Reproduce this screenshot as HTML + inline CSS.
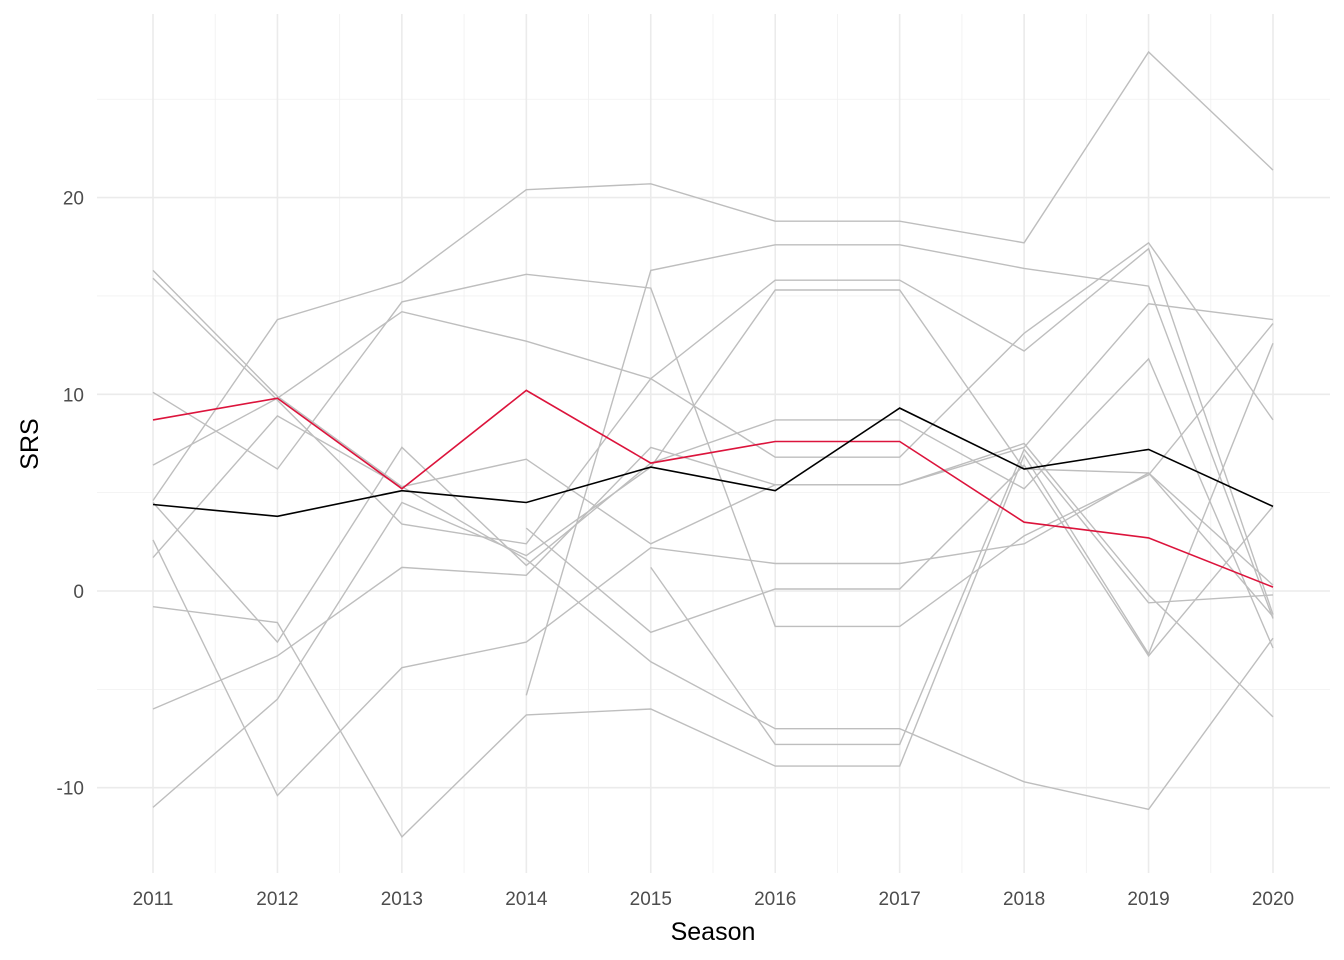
<!DOCTYPE html>
<html><head><meta charset="utf-8"><style>
body{margin:0;background:#fff}
svg{display:block;font-family:"Liberation Sans",sans-serif}
</style></head><body>
<svg id="chart" width="1344" height="960">
<g id="grid"></g>
<g id="lines"></g>
<g id="axes"></g>
<text x="713" y="940" font-size="25" text-anchor="middle" fill="#000">Season</text>
<text transform="translate(38,444) rotate(-90)" font-size="25" text-anchor="middle" fill="#000">SRS</text>
</svg>
<script>
const seasons=[2011,2012,2013,2014,2015,2016,2017,2018,2019,2020];
const yTicks=[-10,0,10,20];
const yMinor=[-5,5,15,25];
const redSeries=[8.7,9.8,5.2,10.2,6.5,7.6,7.6,3.5,2.7,0.2];
const blackSeries=[4.4,3.8,5.1,4.5,6.3,5.1,9.3,6.2,7.2,4.3];
const g1=[4.6,13.8,15.7,20.4,20.7,18.8,18.8,17.7,27.4,21.4];
const g2=[16.3,9.9,5.3,1.6,-3.6,-7.0,-7.0,-9.7,-11.1,-2.4];
const g3=[15.9,9.7,3.4,2.4,10.8,15.8,15.8,12.2,17.4,-1.2];
const g4=[10.1,6.2,14.7,16.1,15.4,-1.8,-1.8,2.8,5.9,13.6];
const g5=[6.4,9.8,14.2,12.7,10.8,6.8,6.8,13.1,17.7,8.7];
const g6=[1.7,8.9,5.3,6.7,2.4,5.4,5.4,7.5,-0.2,-6.4];
const g7=[4.5,-2.6,7.3,1.3,6.5,8.7,8.7,5.2,11.8,-2.9];
const g8=[2.6,-10.4,-3.9,-2.6,2.2,1.4,1.4,2.4,6.0,-1.3];
const g9=[-0.8,-1.6,-12.5,-6.3,-6.0,-8.9,-8.9,6.9,-3.2,12.6];
const g10=[-6.0,-3.3,1.2,0.8,7.3,5.4,5.4,7.3,14.6,13.8];
const g11=[-11.0,-5.5,4.5,1.8,6.3,15.3,15.3,6.2,6.0,0.3];
const g12=[null,null,null,3.2,-2.1,0.1,0.1,6.4,-3.3,4.3];
const g13=[null,null,null,-5.3,16.3,17.6,17.6,16.4,15.5,-1.4];
const g14=[null,null,null,null,1.2,-7.8,-7.8,7.2,-0.6,-0.2];
const graySeries=[g1,g2,g3,g4,g5,g6,g7,g8,g9,g10,g11,g12,g13,g14];

const NS="http://www.w3.org/2000/svg";
const L=97,R=1330,T=14,B=873;
function x(s){return 153+(s-2011)*(1273-153)/9;}
function y(v){return 591-v*19.67;}
function mk(tag,attrs,parent){const e=document.createElementNS(NS,tag);for(const k in attrs)e.setAttribute(k,attrs[k]);parent.appendChild(e);return e;}
const grid=document.getElementById('grid'),lines=document.getElementById('lines'),axes=document.getElementById('axes');
yMinor.forEach(v=>{const e=mk('line',{x1:L,x2:R,y1:y(v),y2:y(v),stroke:'#f0f0f0','stroke-width':0.8},grid);

});
seasons.slice(0,-1).forEach(s=>{const e=mk('line',{x1:x(s+0.5),x2:x(s+0.5),y1:T,y2:B,stroke:'#f0f0f0','stroke-width':0.8},grid);

});
yTicks.forEach(v=>{const e=mk('line',{x1:L,x2:R,y1:y(v),y2:y(v),stroke:'#ebebeb','stroke-width':1.6},grid);


const t=mk('text',{x:84,y:y(v)+7,'font-size':19,'text-anchor':'end',fill:'#4d4d4d'},axes);t.textContent=v;

});
seasons.forEach(s=>{const e=mk('line',{x1:x(s),x2:x(s),y1:T,y2:B,stroke:'#ebebeb','stroke-width':1.6},grid);


const t=mk('text',{x:x(s),y:905,'font-size':19,'text-anchor':'middle',fill:'#4d4d4d'},axes);t.textContent=s;

});
function path(vals){let d='',pen=false;vals.forEach((v,i)=>{if(v===null){pen=false;return;}d+=(pen?'L':'M')+x(seasons[i]).toFixed(1)+','+y(v).toFixed(1);pen=true;});return d;}
graySeries.forEach(s=>{const p=mk('path',{d:path(s),fill:'none',stroke:'#bebebe','stroke-width':1.4},lines);

});
const rp=mk('path',{d:path(redSeries),fill:'none',stroke:'#dc143c','stroke-width':1.6},lines);


const bp=mk('path',{d:path(blackSeries),fill:'none',stroke:'#000','stroke-width':1.6},lines);


</script>
</body></html>
